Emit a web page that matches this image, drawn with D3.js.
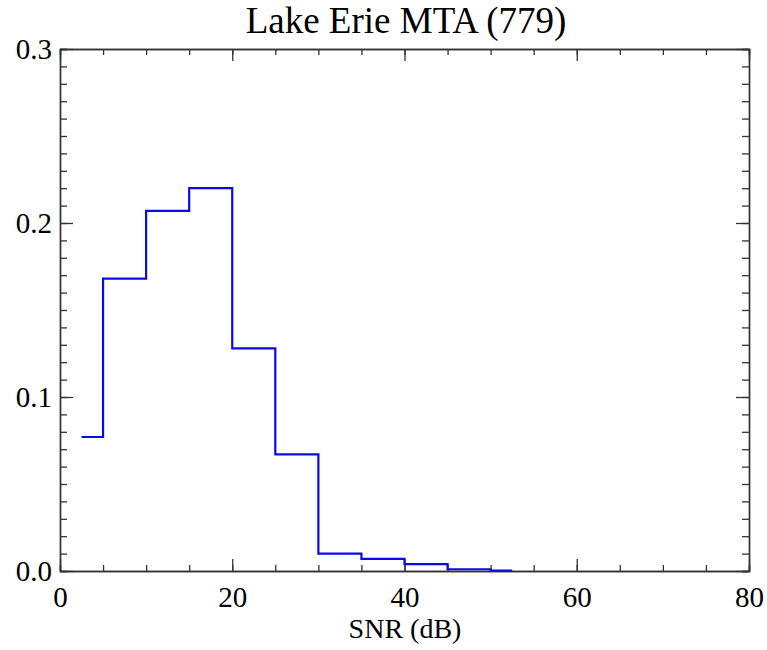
<!DOCTYPE html>
<html>
<head>
<meta charset="utf-8">
<script src="https://cdn.jsdelivr.net/npm/d3@7"></script>
<style>
  html, body { margin: 0; padding: 0; background: #fff; }
  svg { display: block; }
  text { font-family: "Liberation Serif", "Times New Roman", serif; fill: #000; }
</style>
</head>
<body>
<svg id="chart" width="767" height="650"></svg>
<script>
// Data: histogram bin centres (dB) and fractions
const binCenters = [2.5, 7.5, 12.5, 17.5, 22.5, 27.5, 32.5, 37.5, 42.5, 47.5, 52.5];
const fractions  = [0.077, 0.168, 0.207, 0.220, 0.128, 0.067, 0.010, 0.007, 0.004, 0.001, 0.0003];
const xTickValues = [0, 20, 40, 60, 80];
const xTickLabels = ["0", "20", "40", "60", "80"];
const yTickValues = [0, 0.1, 0.2, 0.3];
const yTickLabels = ["0.0", "0.1", "0.2", "0.3"];
const titleText = "Lake Erie MTA (779)";
const xLabelText = "SNR (dB)";

const svg = d3.select("#chart");
const plotLeft = 60, plotRight = 749, plotTop = 49, plotBottom = 571;

const x = d3.scaleLinear().domain([0, 80]).range([plotLeft, plotRight]);
const y = d3.scaleLinear().domain([0, 0.3]).range([plotBottom, plotTop]);

const axisColor = "#333";
const fontSize = 29;

const xMinor = d3.range(0, 80.001, 5);
const yMinor = d3.range(0, 0.3001, 0.01);

function styleAxis(g) {
  g.selectAll("path.domain").attr("stroke", axisColor).attr("stroke-width", 1.4);
  g.selectAll(".tick line").attr("stroke", axisColor).attr("stroke-width", 1.3);
  g.selectAll("text").attr("font-size", fontSize).attr("font-family", '"Liberation Serif", "Times New Roman", serif').attr("fill", "#000");
}

// minor ticks
svg.append("g").attr("transform", `translate(0,${plotBottom})`)
  .call(d3.axisBottom(x).tickValues(xMinor).tickSize(-6).tickFormat(""))
  .call(styleAxis);
svg.append("g").attr("transform", `translate(0,${plotTop})`)
  .call(d3.axisTop(x).tickValues(xMinor).tickSize(-6).tickFormat(""))
  .call(styleAxis);
svg.append("g").attr("transform", `translate(${plotLeft},0)`)
  .call(d3.axisLeft(y).tickValues(yMinor).tickSize(-7).tickFormat(""))
  .call(styleAxis);
svg.append("g").attr("transform", `translate(${plotRight},0)`)
  .call(d3.axisRight(y).tickValues(yMinor).tickSize(-7).tickFormat(""))
  .call(styleAxis);

// major ticks
svg.append("g").attr("transform", `translate(0,${plotBottom})`)
  .call(d3.axisBottom(x).tickValues(xTickValues).tickSizeInner(-12).tickSizeOuter(0).tickPadding(15)
    .tickFormat((d, i) => xTickLabels[i]))
  .call(styleAxis);
svg.append("g").attr("transform", `translate(0,${plotTop})`)
  .call(d3.axisTop(x).tickValues(xTickValues).tickSizeInner(-12).tickSizeOuter(0).tickFormat(""))
  .call(styleAxis);
svg.append("g").attr("transform", `translate(${plotLeft},0)`)
  .call(d3.axisLeft(y).tickValues(yTickValues).tickSizeInner(-13).tickSizeOuter(0).tickPadding(8)
    .tickFormat((d, i) => yTickLabels[i]))
  .call(styleAxis);
svg.append("g").attr("transform", `translate(${plotRight},0)`)
  .call(d3.axisRight(y).tickValues(yTickValues).tickSizeInner(-13).tickSizeOuter(0).tickFormat(""))
  .call(styleAxis);

// histogram step line
const line = d3.line()
  .x((d, i) => x(binCenters[i]))
  .y(d => y(d))
  .curve(d3.curveStep);

svg.append("path")
  .datum(fractions)
  .attr("d", line)
  .attr("fill", "none")
  .attr("stroke", "#0a0ae6")
  .attr("stroke-width", 2.2);

// title
svg.append("text")
  .attr("x", 406).attr("y", 33)
  .attr("text-anchor", "middle")
  .attr("font-size", 37)
  .text(titleText);

// x label
svg.append("text")
  .attr("x", 405).attr("y", 638)
  .attr("text-anchor", "middle")
  .attr("font-size", 28)
  .text(xLabelText);
</script>
</body>
</html>
